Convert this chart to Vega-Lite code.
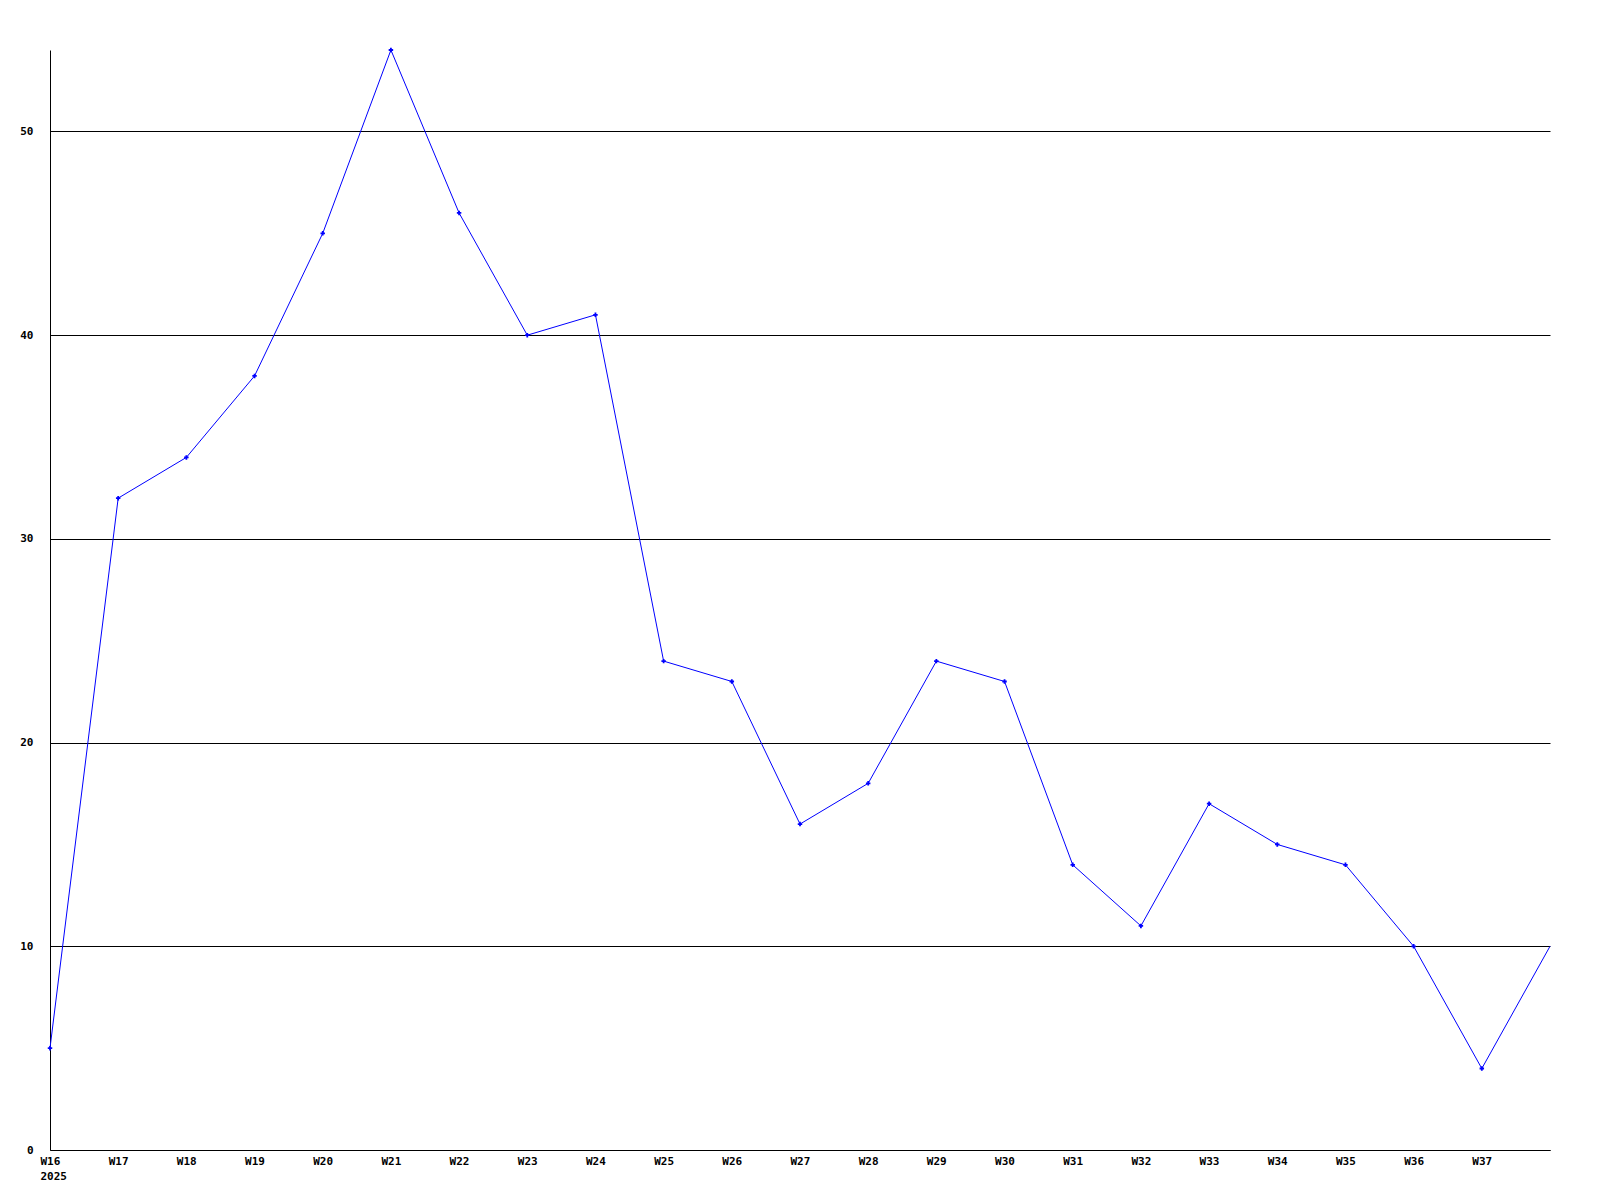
{
  "$schema": "https://vega.github.io/schema/vega-lite/v6.json",
  "width": 1500,
  "height": 1100,
  "autosize": "none",
  "padding": {"left": 50, "top": 50, "right": 50, "bottom": 50},
  "background": "white",
  "config": {"view": {"stroke": null}},
  "data": {"values": [
    {"week": 16, "value": 5}, {"week": 17, "value": 32}, {"week": 18, "value": 34},
    {"week": 19, "value": 38}, {"week": 20, "value": 45}, {"week": 21, "value": 54},
    {"week": 22, "value": 46}, {"week": 23, "value": 40}, {"week": 24, "value": 41},
    {"week": 25, "value": 24}, {"week": 26, "value": 23}, {"week": 27, "value": 16},
    {"week": 28, "value": 18}, {"week": 29, "value": 24}, {"week": 30, "value": 23},
    {"week": 31, "value": 14}, {"week": 32, "value": 11}, {"week": 33, "value": 17},
    {"week": 34, "value": 15}, {"week": 35, "value": 14}, {"week": 36, "value": 10},
    {"week": 37, "value": 4}, {"week": 38, "value": 10}
  ]},
  "encoding": {
    "x": {
      "field": "week", "type": "quantitative",
      "scale": {"domain": [16, 38], "nice": false, "zero": false},
      "axis": {
        "title": null, "grid": false, "ticks": false,
        "values": [16,17,18,19,20,21,22,23,24,25,26,27,28,29,30,31,32,33,34,35,36,37],
        "labelExpr": "datum.value == 16 ? ['W16', '2025'] : 'W' + datum.value",
        "labelFont": "DejaVu Sans Mono", "labelFontSize": 11, "labelFontWeight": "bold",
        "labelColor": "black", "labelPadding": 5, "labelLineHeight": 15,
        "labelAlign": "left", "labelOffset": -10, "labelBaseline": "top", "labelOverlap": false, "labelFlush": false,
        "domainColor": "black", "domainWidth": 1
      }
    },
    "y": {
      "field": "value", "type": "quantitative",
      "scale": {"domain": [0, 54], "nice": false},
      "axis": {
        "title": null, "ticks": false, "values": [0,10,20,30,40,50],
        "grid": true, "gridColor": "black", "gridOpacity": 1, "gridWidth": 1,
        "labelFont": "DejaVu Sans Mono", "labelFontSize": 11, "labelFontWeight": "bold",
        "labelColor": "black", "labelPadding": 17,
        "domainColor": "black", "domainWidth": 1
      }
    }
  },
  "layer": [
    {"mark": {"type": "line", "color": "#0000ff", "strokeWidth": 1}},
    {"transform": [{"filter": "datum.week < 38"}],
     "mark": {"type": "point", "shape": "cross", "filled": true, "color": "#0000ff", "size": 20, "opacity": 1}}
  ]
}
